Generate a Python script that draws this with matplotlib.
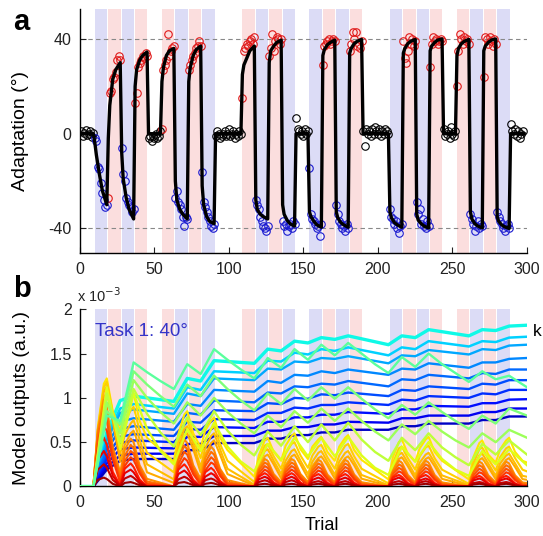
import matplotlib
matplotlib.use('Agg')
import matplotlib.pyplot as plt

plt.rcParams['font.family'] = ['Liberation Sans', 'DejaVu Sans']
plt.rcParams['axes.unicode_minus'] = False

# ---- block layout: one entry per 9-trial block (N null, B blue, R red) ----
block_starts = [0, 9, 18, 27, 36, 45, 54, 63, 72, 81, 90, 99, 108, 117, 126,
                135, 144, 153, 162, 171, 180, 189, 198, 207, 216, 225, 234,
                243, 252, 261, 270, 279, 288]
block_types = ['N', 'B', 'R', 'B', 'R', 'N', 'R', 'B', 'R', 'B', 'N', 'N',
               'R', 'B', 'R', 'B', 'N', 'B', 'R', 'B', 'R', 'N', 'N', 'B',
               'R', 'B', 'R', 'N', 'R', 'B', 'R', 'B', 'N']

# ---- panel a: measured adaptation, 9 trials per block ----
adaptation = [
    [1, -1, 0.5, 1.5, -0.5, 0, 1, -1.5, 0.5],
    [-2, -3, -14, -15, -21, -25, -28, -31, -30],
    [-27, 17, 18, 23, 24, 26, 31, 33, 31],
    [-6, -17, -20, -27, -29, -30, -31, -33, -32],
    [13, 17, 28, 30, 31, 33, 32, 34, 33],
    [-2, -1, -3, -1, -2, 0, -2, -1, 1],
    [2, 27, 29, 31, 42, 33, 35, 36, 37],
    [-27, -24, -29, -30, -32, -35, -39, -35, -36],
    [27, 29, 31, 33, 34, 36, 37, 39, 37],
    [-16, -29, -31, -33, -35, -37, -39, -40, -38],
    [-1, 1, 0, -2, -1, 0, 1, -1, 0],
    [2, -1, 0, 1, -2, 0, -1, 1, 0],
    [15, 35, 36, 38, 37, 39, 40, 38, 41],
    [-28, -30, -32, -35, -37, -39, -40, -41, -39],
    [33, 36, 42, 35, 39, 41, 40, 38, 40],
    [-37, -39, -38, -41, -39, -38, -40, -37, -38],
    [6.5, 2, 1, 0, 1, -1, 2, 0, 1],
    [-14.5, -34, -36, -37, -38, -40, -39, -43, -38],
    [29, 37, 38, 39, 40, 38, 39, 40, 39],
    [-30, -34, -37, -38, -40, -39, -41, -38, -40],
    [35, 38, 43, 40, 43, 37, 38, 36, 39],
    [1, -5, 2, 0, 1, -1, 2, 0, 3],
    [1, 0, 2, -1, 1, 0, 2, 1, 0],
    [-32, -35, -36, -38, -37, -40, -42, -39, -38],
    [39, 32, 30, 35, 41, 38, 40, 37, 39],
    [-29, -34, -32, -38, -36, -39, -40, -37, -39],
    [28, 38, 41, 39, 40, 38, 39, 40, 39],
    [2, -1, 0, 1, -2, 3, 0, -1, 1],
    [20, 35, 42, 40, 38, 41, 39, 40, 38],
    [-34, -36, -38, -41, -39, -37, -40, -38, -39],
    [24, 41, 40, 38, 41, 39, 37, 40, 38],
    [-33, -35, -37, -38, -40, -41, -39, -38, -40],
    [4, 1, 0, 2, -1, 1, -2, 0, 1],
]

# model fit (black line)
line_trials = [0, 9, 10, 11, 13, 15, 18,
               19, 20, 22, 24, 27,
               28, 29, 31, 33, 36,
               37, 38, 40, 42, 45,
               46, 54,
               55, 56, 58, 60, 63,
               64, 65, 67, 69, 72,
               73, 74, 76, 78, 81,
               82, 83, 85, 87, 90,
               91, 108,
               109, 110, 112, 114, 117,
               118, 119, 121, 123, 126,
               127, 128, 130, 132, 135,
               136, 137, 139, 141, 144,
               145, 153,
               154, 155, 157, 159, 162,
               163, 164, 166, 168, 171,
               172, 173, 175, 177, 180,
               181, 182, 184, 186, 189,
               190, 207,
               208, 209, 211, 213, 216,
               217, 218, 220, 222, 225,
               226, 227, 229, 231, 234,
               235, 236, 238, 240, 243,
               244, 252,
               253, 254, 256, 258, 261,
               262, 263, 265, 267, 270,
               271, 272, 274, 276, 279,
               280, 281, 283, 285, 288,
               289, 298]
line_values = [0, 0, -4, -9, -17, -24, -30,
               -2, 12, 23, 27, 30,
               -8, -19, -27, -32, -36,
               20, 27, 31, 33, 34.5,
               0, 0,
               22, 28, 33, 35, 36,
               -20, -28, -32, -34, -36,
               22, 28, 33, 35.5, 37,
               -22, -30, -35, -37, -38,
               0, 0,
               25, 29, 32, 35, 37,
               -28, -32, -34, -35, -36,
               30, 35, 37, 38.5, 39.5,
               -30, -34, -36.5, -38, -39,
               0, 0,
               -33, -35, -37, -38.5, -39.5,
               33, 35.5, 37.5, 38.5, 39.5,
               -33, -35.5, -37.5, -38.5, -39.5,
               34, 36, 38, 39, 39.8,
               0, 0,
               -33, -35.5, -37.5, -38.5, -39.5,
               34, 36, 38, 39, 39.8,
               -34, -36.5, -38, -39, -39.8,
               35, 37, 38.5, 39.5, 40,
               0, 0,
               33, 36, 38, 39, 39.8,
               -33, -36, -38, -39, -39.8,
               35, 37, 38.5, 39.5, 40,
               -35, -37, -38.5, -39.3, -40,
               0, 0]

# ---- panel b: model outputs (x 1e-3) ----
knots = [0, 9, 18, 27, 36, 45, 54, 63, 72, 81, 90, 99, 108, 117, 126, 135,
         144, 153, 162, 171, 180, 189, 198, 207, 216, 225, 234, 243, 252,
         261, 270, 279, 288, 300]
knots_slow = [0, 9, 18, 27, 36, 63, 72, 81, 90, 117, 126, 135, 144, 153,
              162, 171, 180, 207, 216, 225, 234, 261, 270, 279, 288, 300]

# slow modules, top (cyan) to bottom (dark blue)
slow_outputs = [
    [0, 0, .61, .97, 1.02, .96, 1.22, 1.19, 1.42, 1.39, 1.55, 1.53, 1.64, 1.62, 1.68, 1.66, 1.70, 1.60, 1.70, 1.68, 1.77, 1.70, 1.77, 1.76, 1.81, 1.82],
    [0, 0, .56, .88, .93, .88, 1.12, 1.09, 1.30, 1.28, 1.42, 1.41, 1.51, 1.49, 1.55, 1.53, 1.57, 1.48, 1.57, 1.55, 1.64, 1.58, 1.64, 1.63, 1.68, 1.69],
    [0, 0, .52, .83, .87, .82, 1.05, 1.02, 1.22, 1.20, 1.33, 1.32, 1.41, 1.40, 1.45, 1.44, 1.47, 1.39, 1.48, 1.47, 1.54, 1.49, 1.55, 1.54, 1.59, 1.60],
    [0, 0, .46, .73, .77, .73, .93, .91, 1.09, 1.07, 1.19, 1.17, 1.26, 1.25, 1.30, 1.28, 1.32, 1.26, 1.33, 1.32, 1.39, 1.34, 1.40, 1.40, 1.44, 1.45],
    [0, 0, .41, .65, .68, .64, .83, .81, .97, .95, 1.06, 1.05, 1.13, 1.12, 1.16, 1.15, 1.19, 1.13, 1.21, 1.20, 1.26, 1.22, 1.28, 1.27, 1.32, 1.32],
    [0, 0, .35, .56, .59, .57, .73, .72, .86, .85, .94, .93, 1.00, .99, 1.04, 1.03, 1.06, 1.02, 1.09, 1.08, 1.13, 1.10, 1.16, 1.15, 1.20, 1.20],
    [0, 0, .31, .49, .52, .50, .65, .64, .76, .75, .83, .83, .89, .88, .92, .92, .95, .92, .98, .97, 1.02, 1.00, 1.05, 1.04, 1.09, 1.09],
    [0, 0, .26, .42, .44, .43, .56, .56, .67, .66, .73, .73, .78, .78, .81, .81, .84, .82, .87, .87, .91, .90, .94, .94, .98, .985],
    [0, 0, .22, .35, .37, .37, .48, .48, .57, .57, .63, .63, .67, .67, .70, .70, .73, .72, .77, .77, .80, .80, .84, .84, .88, .88],
    [0, 0, .19, .29, .31, .31, .41, .41, .49, .49, .54, .54, .58, .58, .61, .61, .64, .64, .68, .68, .71, .71, .75, .75, .79, .79],
]

# intermediate modules (green zig-zags), lowest to highest
mid_outputs = [
    [0, 0, 1.12, .42, 1.05, .65, .40, .25, .65, .40, .72, .45, .28, .17, .48, .30, .55, .34, .55, .34, .56, .35, .21, .13, .45, .28, .50, .31, .19, .12, .40, .25, .42, .24],
    [0, 0, 1.05, .50, 1.10, .82, .61, .45, .78, .58, .85, .63, .47, .35, .62, .46, .68, .50, .70, .52, .72, .53, .39, .29, .55, .41, .60, .44, .33, .24, .48, .36, .52, .36],
    [0, 0, .95, .60, 1.20, 1.00, .84, .71, .95, .80, 1.00, .84, .71, .60, .80, .67, .85, .72, .88, .74, .88, .74, .62, .52, .70, .59, .74, .62, .52, .44, .60, .50, .64, .55],
    [0, 0, .85, .70, 1.30, 1.15, 1.02, .90, 1.15, 1.02, 1.25, 1.10, .97, .86, 1.05, .93, 1.10, .97, 1.12, .99, 1.12, .99, .87, .77, .92, .81, .95, .84, .74, .65, .80, .71, .88, .80],
    [0, 0, .80, .74, 1.40, 1.29, 1.19, 1.10, 1.38, 1.27, 1.55, 1.43, 1.32, 1.22, 1.45, 1.34, 1.55, 1.43, 1.60, 1.48, 1.62, 1.50, 1.38, 1.28, 1.46, 1.35, 1.50, 1.38, 1.28, 1.18, 1.30, 1.21, 1.25, 1.12],
]

# fast modules (humps), dark red to yellow: one row of 6 values per hump,
# read at hump_start + hump_offsets
hump_starts = [9, 27, 63, 81, 117, 135, 153, 171, 207, 225, 261, 279]
hump_offsets = [0, 3, 7, 9, 13, 18]
fast_outputs = [
    [[0, .075, .10, .085, .03, 0], [0, .04, .05, .04, .015, 0],
     [0, .04, .05, .04, .015, 0], [0, .03, .04, .034, .012, 0],
     [0, .022, .03, .026, .009, 0], [0, .022, .03, .026, .009, 0],
     [0, .022, .03, .026, .009, 0], [0, .022, .03, .026, .009, 0],
     [0, .022, .03, .026, .009, 0], [0, .022, .03, .026, .009, 0],
     [0, .022, .03, .026, .009, 0], [0, .022, .03, .026, .009, 0]],
    [[0, .19, .25, .21, .075, .005], [.005, .09, .12, .10, .036, 0],
     [0, .08, .11, .094, .033, 0], [0, .07, .09, .077, .027, 0],
     [0, .05, .07, .06, .021, 0], [0, .05, .07, .06, .021, 0],
     [0, .045, .06, .051, .018, 0], [0, .045, .06, .051, .018, 0],
     [0, .045, .06, .051, .018, 0], [0, .045, .06, .051, .018, 0],
     [0, .038, .05, .043, .015, 0], [0, .038, .05, .043, .015, 0]],
    [[0, .30, .40, .34, .12, .01], [.01, .15, .19, .16, .057, 0],
     [0, .14, .18, .15, .054, 0], [0, .11, .15, .13, .045, 0],
     [0, .08, .11, .094, .033, 0], [0, .08, .11, .094, .033, 0],
     [0, .075, .10, .085, .03, 0], [0, .075, .10, .085, .03, 0],
     [0, .075, .10, .085, .03, 0], [0, .068, .09, .077, .027, 0],
     [0, .068, .09, .077, .027, 0], [0, .068, .09, .077, .027, 0]],
    [[0, .41, .55, .47, .165, .01], [.01, .20, .26, .22, .08, 0],
     [0, .19, .25, .21, .075, 0], [0, .16, .21, .18, .063, 0],
     [0, .11, .15, .13, .045, 0], [0, .11, .15, .13, .045, 0],
     [0, .105, .14, .12, .042, 0], [0, .105, .14, .12, .042, 0],
     [0, .10, .13, .11, .039, 0], [0, .10, .13, .11, .039, 0],
     [0, .09, .12, .10, .036, 0], [0, .09, .12, .10, .036, 0]],
    [[0, .44, .68, .63, .31, .04], [.04, .23, .33, .30, .15, .02],
     [0, .21, .32, .29, .14, .02], [.02, .18, .27, .25, .12, .016],
     [0, .12, .19, .17, .085, .011], [.011, .13, .19, .17, .085, .011],
     [.011, .12, .18, .166, .081, .011], [.011, .12, .18, .166, .081, .011],
     [0, .11, .17, .156, .077, .01], [.01, .11, .17, .156, .077, .01],
     [0, .10, .16, .147, .072, .01], [.01, .10, .16, .147, .072, .01]],
    [[0, .52, .80, .74, .36, .07], [.07, .28, .40, .37, .18, .036],
     [0, .25, .39, .36, .175, .035], [.035, .23, .33, .30, .15, .03],
     [0, .15, .23, .21, .10, .02], [.02, .16, .23, .21, .10, .02],
     [.02, .15, .22, .20, .10, .02], [.02, .15, .22, .20, .10, .02],
     [0, .14, .21, .19, .095, .019], [.019, .14, .21, .19, .095, .019],
     [0, .13, .20, .18, .09, .018], [.018, .13, .20, .18, .09, .018]],
    [[0, .59, .90, .83, .41, .11], [.11, .34, .47, .43, .21, .056],
     [0, .30, .46, .42, .21, .055], [.055, .27, .39, .36, .18, .047],
     [0, .18, .27, .25, .12, .032], [.032, .19, .27, .25, .12, .032],
     [.032, .18, .26, .24, .12, .031], [.031, .18, .26, .24, .12, .031],
     [0, .16, .25, .23, .11, .03], [.03, .17, .25, .23, .11, .03],
     [0, .16, .24, .22, .11, .029], [.029, .16, .24, .22, .11, .029]],
    [[0, .64, .98, .90, .44, .16], [.16, .41, .54, .50, .24, .086],
     [0, .34, .53, .49, .24, .085], [.085, .32, .45, .41, .20, .072],
     [0, .20, .31, .29, .14, .05], [.05, .22, .31, .29, .14, .05],
     [.05, .21, .30, .28, .135, .048], [.048, .21, .30, .28, .135, .048],
     [0, .19, .29, .27, .13, .046], [.046, .20, .29, .27, .13, .046],
     [0, .18, .28, .26, .126, .045], [.045, .19, .28, .26, .126, .045]],
    [[0, .58, 1.0, 1.06, .74, .28], [.28, .47, .60, .63, .44, .16],
     [.04, .35, .57, .60, .42, .16], [.16, .36, .49, .52, .36, .14],
     [.01, .20, .34, .36, .25, .094], [.094, .24, .34, .36, .25, .094],
     [.094, .23, .32, .34, .24, .088], [.088, .23, .32, .34, .24, .088],
     [.006, .19, .31, .33, .23, .086], [.086, .22, .31, .33, .23, .086],
     [.006, .18, .30, .32, .22, .083], [.083, .21, .30, .32, .22, .083]],
    [[0, .62, 1.07, 1.13, .79, .37], [.37, .58, .71, .75, .53, .25],
     [.08, .41, .65, .68, .48, .22], [.22, .43, .57, .60, .42, .20],
     [.02, .24, .40, .42, .29, .14], [.14, .29, .40, .42, .29, .14],
     [.14, .28, .38, .40, .28, .13], [.13, .28, .38, .40, .28, .13],
     [.015, .22, .36, .38, .27, .125], [.125, .27, .36, .38, .27, .125],
     [.015, .21, .35, .37, .26, .12], [.12, .26, .35, .37, .26, .12]],
    [[0, .65, 1.12, 1.18, .83, .50], [.50, .72, .86, .90, .63, .38],
     [.16, .49, .72, .76, .53, .32], [.32, .52, .65, .68, .48, .29],
     [.05, .29, .46, .48, .34, .20], [.20, .37, .48, .50, .35, .21],
     [.21, .35, .45, .47, .33, .20], [.20, .35, .46, .48, .34, .20],
     [.035, .26, .43, .45, .32, .19], [.19, .34, .44, .46, .32, .19],
     [.03, .26, .42, .44, .31, .18], [.18, .33, .43, .45, .32, .19]],
    [[0, .67, 1.16, 1.22, .85, .63], [.63, .86, 1.0, 1.05, .74, .55],
     [.28, .59, .81, .85, .60, .44], [.44, .63, .74, .78, .55, .41],
     [.11, .35, .52, .55, .39, .29], [.29, .46, .57, .60, .42, .31],
     [.31, .45, .53, .56, .39, .29], [.29, .45, .55, .58, .41, .30],
     [.08, .33, .50, .53, .37, .28], [.28, .43, .53, .56, .39, .29],
     [.08, .33, .49, .52, .36, .27], [.27, .42, .52, .55, .39, .29]],
]
fast_tail = [0, 0, 0, 0, .008, .015, .025, .04, .075, .11, .17, .27]

BAND = {'B': '#dcdcf6', 'R': '#fbdede'}
DOT = {'N': 'black', 'B': '#1a1ad0', 'R': '#e01818'}
jet = plt.get_cmap('jet')

fig = plt.figure(figsize=(5.43, 5.36), dpi=100)
ax_a = fig.add_axes([0.1473, 0.5274, 0.8232, 0.4552])
ax_b = fig.add_axes([0.1473, 0.0924, 0.8232, 0.3306])

for ax in (ax_a, ax_b):
    for s, kind in zip(block_starts, block_types):
        if kind in BAND:
            ax.axvspan(s + 1.0, s + 9.3, color=BAND[kind], lw=0, zorder=0)
    ax.set_xlim(0, 300)
    ax.set_xticks([0, 50, 100, 150, 200, 250, 300])
    ax.spines['top'].set_visible(False)
    ax.spines['right'].set_visible(False)
    ax.tick_params(direction='in', length=4, width=0.8, labelsize=11.5,
                   pad=6, colors='#222222')
    ax.spines['left'].set_linewidth(1.0)
    ax.spines['bottom'].set_linewidth(1.0)

# ---- panel a ----
for y in (40, -40):
    ax_a.axhline(y, color='#888888', lw=0.8, ls=(0, (4, 3)), zorder=1)

for s, kind, vals in zip(block_starts, block_types, adaptation):
    trials = [s + i + 1 for i in range(len(vals))]
    ax_a.plot(trials, vals, ls='none', marker='o', ms=5.4, mfc='none',
              mec=DOT[kind], mew=0.8, zorder=2)

ax_a.plot(line_trials, line_values, color='black', lw=2.4, zorder=3,
          solid_joinstyle='round')
ax_a.set_ylim(-50.5, 52.5)
ax_a.set_yticks([-40, 0, 40])
ax_a.set_ylabel('Adaptation (°)', fontsize=14)
ax_a.yaxis.set_label_coords(-0.115, 0.5)

# ---- panel b ----
slow_levels = [0.37, 0.33, 0.29, 0.26, 0.23, 0.20, 0.17, 0.14, 0.10, 0.06]
slow_widths = [2.4, 1.8, 1.7, 1.7, 1.7, 1.7, 1.7, 1.7, 1.7, 1.7]
for vals, c, w in zip(slow_outputs, slow_levels, slow_widths):
    ax_b.plot(knots_slow, vals, color=jet(c), lw=w, zorder=2)

fast_levels = [0.97, 0.94, 0.91, 0.88, 0.85, 0.82, 0.79, 0.76, 0.73, 0.71, 0.69, 0.665]
for humps, tail, c in reversed(list(zip(fast_outputs, fast_tail, fast_levels))):
    xs, ys = [0], [0]
    for s, vals in zip(hump_starts, humps):
        xs += [s + o for o in hump_offsets]
        ys += vals
    xs.append(300)
    ys.append(tail)
    ax_b.plot(xs, ys, color=jet(c), lw=1.5, zorder=3)

mid_levels = [0.62, 0.58, 0.54, 0.50, 0.46]
for vals, c in zip(mid_outputs, mid_levels):
    ax_b.plot(knots, vals, color=jet(c), lw=1.7, zorder=4)

ax_b.set_ylim(0, 2)
ax_b.set_yticks([0, 0.5, 1, 1.5, 2])
ax_b.set_yticklabels(['0', '0.5', '1', '1.5', '2'])
ax_b.set_ylabel('Model outputs (a.u.)', fontsize=14)
ax_b.yaxis.set_label_coords(-0.112, 0.5)
ax_b.set_xlabel('Trial', fontsize=13)
ax_b.xaxis.set_label_coords(0.541, -0.17)
ax_b.xaxis.label.set_va('top')
ax_b.text(-0.007, 1.025, r'x 10$^{-3}$', transform=ax_b.transAxes,
          fontsize=10.5, ha='left', va='bottom', color='#222222')
ax_b.text(10, 1.75, 'Task 1: 40°', color='#3434c8', fontsize=13.5,
          va='center', ha='left', zorder=6)

fig.text(533 / 543, 1 - 332 / 536, 'k', fontsize=12.5, va='center', ha='left')
fig.text(13 / 543, 1 - 22 / 536, 'a', fontsize=21, fontweight='bold',
         va='center', ha='left')
fig.text(13 / 543, 1 - 289 / 536, 'b', fontsize=21, fontweight='bold',
         va='center', ha='left')

fig.savefig('out.png', dpi=100)
